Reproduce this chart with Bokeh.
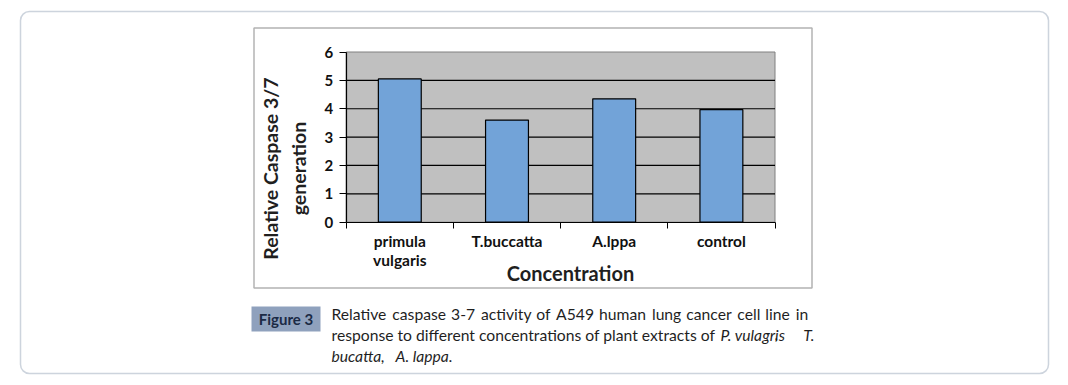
import math
from bokeh.plotting import figure
from bokeh.models import Range1d, FixedTicker, Label, BoxAnnotation
from bokeh.embed import file_html
from bokeh.resources import INLINE

categories = ["primula\nvulgaris", "T.buccatta", "A.lppa", "control"]
values = [5.05, 3.6, 4.35, 3.97]
y_ticks = [0, 1, 2, 3, 4, 5, 6]

# canvas geometry (pixels)
W, H = 1068, 385
PL, PR, PT, PB = 345.7, 774.5, 51.5, 221.7   # plot-area edges
n = len(categories)
ymax = y_ticks[-1]
kx = (PR - PL) / n
ky = (PB - PT) / ymax

xs = [i + 0.5 for i in range(n)]

p = figure(width=W, height=H, output_backend="svg", toolbar_location=None,
           x_range=Range1d(-PL / kx, n + (W - PR) / kx),
           y_range=Range1d(-(H - PB) / ky, ymax + PT / ky),
           min_border=0, title=None)
p.background_fill_color = "white"
p.border_fill_color = "white"
p.outline_line_color = None
p.xgrid.visible = False
p.ygrid.visible = False

# plot area background + grid lines
p.quad(left=[0], right=[n], bottom=[0], top=[ymax], fill_color="#C0C0C0",
       line_color="#808080", line_width=1)
p.segment(x0=[0] * (len(y_ticks) - 2), x1=[n] * (len(y_ticks) - 2),
          y0=y_ticks[1:-1], y1=y_ticks[1:-1], line_color="black", line_width=1.2)

p.vbar(x=xs, top=values, width=0.4, fill_color="#72A3D8",
       line_color="black", line_width=1.2)

FONT = "Lato"
# y axis
ya = p.yaxis[0]
ya.fixed_location = 0
ya.bounds = (0, ymax)
ya.ticker = FixedTicker(ticks=y_ticks, minor_ticks=[])
ya.axis_line_color = "black"
ya.axis_line_width = 1.2
ya.major_tick_out = 7
ya.major_tick_in = 0
ya.major_tick_line_color = "black"
ya.major_label_text_font = FONT
ya.major_label_text_font_style = "bold"
ya.major_label_text_font_size = "15px"
ya.major_label_text_color = "#111111"
ya.major_label_standoff = 6

# x axis
xa = p.xaxis[0]
xa.fixed_location = 0
xa.bounds = (0, n)
xa.ticker = FixedTicker(ticks=xs, minor_ticks=list(range(n + 1)))
xa.major_label_overrides = {x: c for x, c in zip(xs, categories)}
xa.axis_line_color = "black"
xa.axis_line_width = 1.2
xa.major_tick_out = 0
xa.major_tick_in = 0
xa.minor_tick_out = 6
xa.minor_tick_in = 0
xa.minor_tick_line_color = "black"
xa.major_label_text_font = FONT
xa.major_label_text_font_style = "bold"
xa.major_label_text_font_size = "15.5px"
xa.major_label_text_color = "#111111"
xa.major_label_text_line_height = 1.05
xa.major_label_standoff = 4

U = dict(left_units="canvas", right_units="canvas", top_units="canvas", bottom_units="canvas")
# outer rounded box
p.add_layout(BoxAnnotation(left=20, right=1048, top=11, bottom=373, **U,
                           fill_alpha=0, line_color="#5B6F8E", line_width=1.5,
                           border_radius=9))
# chart image box
p.add_layout(BoxAnnotation(left=253.5, right=811.5, top=27.5, bottom=287.5, **U,
                           fill_alpha=0, line_color="black", line_width=1.5))
# Figure 3 tag box
p.add_layout(BoxAnnotation(left=251, right=320, top=306, bottom=331, **U,
                           fill_color="#8FA1BD", fill_alpha=1, line_alpha=0))


def lab(text, x, y, size, style="normal", align="left", angle=0, color="#1f1f1f"):
    p.add_layout(Label(x=x, y=y, text=text, x_units="canvas", y_units="canvas",
                       text_font=FONT, text_font_size=size, text_font_style=style,
                       text_align=align, text_baseline="middle", angle=angle,
                       text_color=color))


lab("Relative Caspase 3/7", 270, 168, "19.5px", "bold", "center", math.pi / 2)
lab("generation", 298, 168, "19.5px", "bold", "center", math.pi / 2)
lab("Concentration", 570, 272, "20px", "bold", "center")
lab("Figure 3", 285.5, 318.5, "15px", "bold", "center", color="#1B2A45")

CS = "15.7px"
L1, L2, L3 = 313, 334.3, 355.7
# widened word gaps (space + thin / hair space) to mimic the justified first line
words1 = "Relative caspase 3-7 activity of A549 human lung cancer cell line in".split(" ")
line1 = words1[0]
for i, w in enumerate(words1[1:]):
    line1 += (" \u2009" if i % 2 == 0 else " \u200a") + w
lab(line1, 331, L1, CS)
lab("response to different concentrations of plant extracts of", 331, L2, CS)
lab("P. vulagris", 720, L2, CS, "italic")
lab(",", 774, L2, CS)
lab("T.", 814, L2, CS, "italic", align="right")
lab("bucatta,", 331, L3, CS, "italic")
lab("A. lappa.", 395, L3, CS, "italic")

open("out.html", "w").write(file_html(p, INLINE))
